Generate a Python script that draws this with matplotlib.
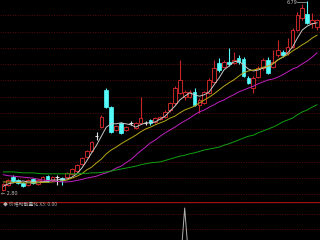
import matplotlib
matplotlib.use('Agg')
import matplotlib.pyplot as plt
from matplotlib.patches import Rectangle

plt.rcParams['font.family'] = ['Noto Sans CJK SC', 'DejaVu Sans']

# daily candles
opens = [2.82, 2.93, 3.09, 3.03, 2.97, 2.93, 3.05, 2.95, 3.01, 3.11, 3.03, 3.09, 3.07, 3.09, 3.16, 3.22,
         3.37, 3.51, 3.64, 3.96, 4.14, 4.92, 4.56, 4.08, 4.23, 4.08, 4.23, 4.12, 4.23, 4.23, 4.29, 4.25,
         4.31, 4.35, 4.50, 4.65, 4.86, 4.77, 4.77, 4.88, 4.61, 4.65, 4.86, 5.09, 5.49, 5.40, 5.51, 5.49,
         5.59, 5.57, 5.17, 4.96, 5.19, 5.38, 5.55, 5.40, 5.66, 5.72, 5.70, 5.82, 6.18, 6.43, 6.52, 6.33, 6.24]
closes = [2.95, 3.03, 3.01, 2.97, 2.90, 3.03, 2.97, 3.03, 3.09, 3.01, 3.09, 3.09, 3.03, 3.18, 3.26, 3.35,
          3.49, 3.64, 3.83, 3.96, 4.35, 4.56, 4.04, 4.16, 4.02, 4.14, 4.23, 4.23, 4.33, 4.23, 4.23, 4.33,
          4.35, 4.46, 4.65, 4.96, 5.13, 4.88, 4.88, 4.61, 4.71, 4.88, 5.13, 5.38, 5.34, 5.51, 5.47, 5.55,
          5.51, 5.21, 5.07, 5.17, 5.38, 5.55, 5.28, 5.51, 5.76, 5.66, 5.82, 6.18, 6.50, 6.64, 6.33, 6.39, 6.39]
highs = [2.97, 3.05, 3.14, 3.05, 2.99, 3.05, 3.07, 3.05, 3.11, 3.14, 3.11, 3.14, 3.09, 3.20, 3.28, 3.37,
         3.51, 3.66, 3.85, 4.04, 4.40, 4.96, 4.58, 4.19, 4.25, 4.16, 4.27, 4.25, 4.77, 4.27, 4.31, 4.35,
         4.37, 4.50, 4.67, 5.00, 5.55, 4.92, 4.92, 4.96, 4.75, 4.90, 5.17, 5.55, 5.59, 5.55, 5.80, 5.72,
         5.66, 5.61, 5.21, 5.21, 5.42, 5.59, 5.61, 5.76, 5.97, 5.76, 6.01, 6.22, 6.56, 6.73, 6.79, 6.54, 6.41]
lows = [2.80, 2.90, 2.99, 2.95, 2.88, 2.90, 2.95, 2.93, 2.99, 2.99, 3.01, 2.93, 2.93, 3.07, 3.14, 3.20,
        3.35, 3.49, 3.62, 3.87, 4.12, 4.54, 4.02, 4.06, 4.00, 4.06, 4.19, 4.10, 4.21, 4.19, 4.19, 4.23,
        4.29, 4.33, 4.46, 4.61, 4.84, 4.71, 4.75, 4.58, 4.44, 4.63, 4.84, 5.07, 5.30, 5.38, 5.42, 5.47,
        5.47, 5.19, 5.05, 4.86, 5.17, 5.34, 5.26, 5.38, 5.61, 5.61, 5.66, 5.80, 6.16, 6.39, 6.31, 6.22, 6.18]

# moving averages as shown on the chart
ma5 = [2.90, 2.95, 2.97, 2.99, 3.01, 2.99, 2.99, 2.99, 2.99, 3.01, 3.03, 3.03, 3.05, 3.05, 3.09, 3.16,
       3.28, 3.43, 3.60, 3.76, 3.95, 4.14, 4.21, 4.21, 4.23, 4.21, 4.19, 4.14, 4.19, 4.23, 4.23, 4.25,
       4.31, 4.37, 4.48, 4.58, 4.71, 4.79, 4.86, 4.82, 4.79, 4.82, 4.88, 5.03, 5.17, 5.34, 5.42, 5.51,
       5.53, 5.45, 5.36, 5.32, 5.34, 5.38, 5.42, 5.47, 5.55, 5.61, 5.70, 5.82, 6.01, 6.18, 6.26, 6.31, 6.33]
ma10 = [2.99, 2.99, 2.98, 2.98, 2.97, 2.97, 2.97, 2.97, 2.98, 2.98, 2.99, 3.00, 3.01, 3.03, 3.07, 3.11,
        3.16, 3.24, 3.30, 3.39, 3.47, 3.58, 3.66, 3.72, 3.79, 3.85, 3.91, 3.97, 4.04, 4.10, 4.14, 4.19,
        4.23, 4.27, 4.33, 4.37, 4.44, 4.50, 4.54, 4.58, 4.65, 4.71, 4.77, 4.84, 4.92, 5.00, 5.07, 5.13,
        5.21, 5.28, 5.32, 5.34, 5.36, 5.40, 5.42, 5.47, 5.55, 5.61, 5.66, 5.74, 5.80, 5.87, 5.93, 6.01, 6.07]
ma20 = [3.14, 3.12, 3.11, 3.10, 3.09, 3.08, 3.07, 3.05, 3.03, 3.02, 3.01, 3.00, 2.99, 2.99, 3.00, 3.02,
        3.04, 3.07, 3.09, 3.11, 3.15, 3.18, 3.22, 3.28, 3.32, 3.39, 3.46, 3.55, 3.64, 3.72, 3.81, 3.87,
        3.95, 4.02, 4.08, 4.14, 4.21, 4.27, 4.33, 4.40, 4.46, 4.50, 4.56, 4.61, 4.67, 4.71, 4.77, 4.82,
        4.88, 4.92, 4.96, 5.00, 5.05, 5.09, 5.13, 5.15, 5.19, 5.24, 5.30, 5.36, 5.40, 5.47, 5.53, 5.61, 5.70]
ma60 = [3.20, 3.20, 3.20, 3.19, 3.18, 3.18, 3.18, 3.17, 3.16, 3.16, 3.16, 3.16, 3.16, 3.16, 3.16, 3.16,
        3.17, 3.17, 3.18, 3.18, 3.19, 3.20, 3.22, 3.24, 3.26, 3.28, 3.30, 3.32, 3.35, 3.37, 3.39, 3.40,
        3.41, 3.44, 3.47, 3.50, 3.53, 3.55, 3.58, 3.60, 3.63, 3.66, 3.68, 3.70, 3.72, 3.76, 3.79, 3.83,
        3.87, 3.91, 3.95, 3.97, 4.02, 4.06, 4.10, 4.14, 4.19, 4.25, 4.29, 4.33, 4.40, 4.46, 4.50, 4.56, 4.61]

# sub indicator X3
x3 = [0, 0, 0, 0, 0, 0, 0, 0, 0, 0, 0, 0, 0, 0, 0, 0, 0, 0, 0, 0, 0, 0, 0, 0, 0, 0, 0, 0, 0, 0, 0, 0,
      0, 0, 0, 0, 0, 100, 0, 0, 0, 0, 0, 0, 0, 0, 0, 0, 0, 0, 0, 0, 0, 0, 0, 0, 0, 0, 0, 0, 0, 0, 0, 0, 0]
sub_label = '◆ 价格动能量化 X3: 0.00'

up_col = '#c82626'
down_col = '#54fcfc'
grid_col = '#5a0a0a'

fig = plt.figure(figsize=(3.2, 2.4), dpi=100, facecolor='black')
ax = fig.add_axes([0, 1 - 198 / 240, 1, 198 / 240], facecolor='black')
ax2 = fig.add_axes([0, 0, 1, 38 / 240], facecolor='black')

n = len(closes)
xlim = (-3.4 / 4.9, (320 - 3.4) / 4.9)

# price grid
for yp in [15, 32, 48, 64, 80, 97, 113, 129, 145, 162, 178, 194]:
    ax.axhline(6.81 - 0.021 * yp, color=grid_col, lw=0.7, ls=(0, (1, 1.5)), zorder=0)

w = 0.75
for i in range(n):
    o, c, h, l = opens[i], closes[i], highs[i], lows[i]
    if c > o:
        ax.vlines(i, c, h, color=up_col, lw=0.8, zorder=3)
        ax.vlines(i, l, o, color=up_col, lw=0.8, zorder=3)
        ax.add_patch(Rectangle((i - w / 2, o), w, c - o, facecolor='black',
                               edgecolor=up_col, lw=0.7, zorder=3))
    elif c < o:
        ax.vlines(i, l, h, color=down_col, lw=0.8, zorder=3)
        ax.add_patch(Rectangle((i - w / 2, c), w, o - c, facecolor=down_col,
                               edgecolor=down_col, lw=0.5, zorder=3))
    else:
        ax.vlines(i, l, h, color='#e0e0e0', lw=0.8, zorder=3)
        ax.hlines(o, i - w / 2, i + w / 2, color='#e0e0e0', lw=0.8, zorder=3)

idx = list(range(n))
ax.plot(idx, ma5, color='#c8c8c8', lw=0.7, zorder=4)
ax.plot(idx, ma10, color='#b8a818', lw=0.7, zorder=4)
ax.plot(idx, ma20, color='#c020c0', lw=0.7, zorder=4)
ax.plot(idx, ma60, color='#10a010', lw=0.7, zorder=4)

# high / low markers
hi = highs.index(max(highs))
lo = lows.index(min(lows))
ax.plot([hi - 2.0, hi - 0.3], [highs[hi] - 0.03, highs[hi] - 0.03], color='#bbbbbb', lw=0.5)
ax.text(hi - 2.1, highs[hi] - 0.03, '%.2f' % highs[hi], color='#bbbbbb', fontsize=3.5,
        ha='right', va='center', family='DejaVu Sans')
ax.text(lo - 0.4, lows[lo] - 0.01, '\u2190 %.2f' % lows[lo], color='#bbbbbb', fontsize=3.5,
        ha='left', va='top', family='DejaVu Sans')

ax.set_xlim(*xlim)
ax.set_ylim(6.81 - 0.021 * 198, 6.81)
ax.axis('off')

# sub panel
ax2.axhline(109.0, color='#a01010', lw=1.0)
for v in [90.6, 67.2]:
    ax2.axhline(v, color=grid_col, lw=0.7, ls=(0, (1, 1.5)))
ax2.plot(idx, x3, color='#b0b0b0', lw=0.7)
ax2.text(0.0, 104.5, sub_label, color='#b0b0b0', fontsize=3.5, va='center', ha='left')
ax2.set_xlim(*xlim)
ax2.set_ylim(50, 109.4)
ax2.axis('off')

fig.savefig('out.png', dpi=100, facecolor='black')
